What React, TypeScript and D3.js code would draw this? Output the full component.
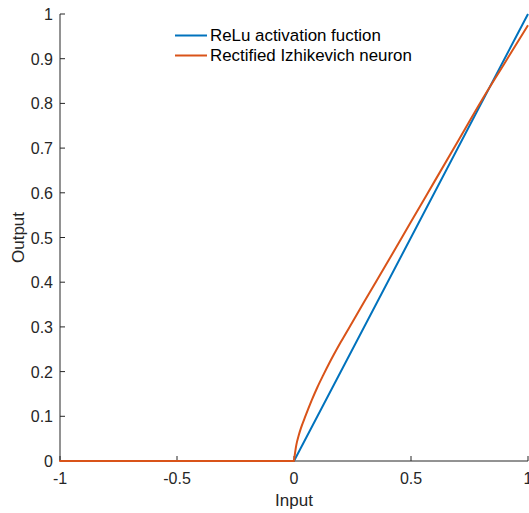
import React from "react";
import * as d3 from "d3";

const xTicks = [-1, -0.5, 0, 0.5, 1];
const xTickLabels = ["-1", "-0.5", "0", "0.5", "1"];
const yTicks = [0, 0.1, 0.2, 0.3, 0.4, 0.5, 0.6, 0.7, 0.8, 0.9, 1];
const yTickLabels = ["0", "0.1", "0.2", "0.3", "0.4", "0.5", "0.6", "0.7", "0.8", "0.9", "1"];

const reluX = [-1, 0, 1];
const reluY = [0, 0, 1];

const izhX = [-1, -0.5, 0, 0.005, 0.01, 0.02, 0.03, 0.05, 0.075, 0.1, 0.125, 0.15, 0.2, 0.25, 0.3, 0.4, 0.5, 0.6, 0.7, 0.8, 0.9, 1];
const izhY = [0, 0, 0, 0.02, 0.036, 0.057, 0.074, 0.102, 0.135, 0.165, 0.192, 0.218, 0.266, 0.311, 0.356, 0.445, 0.535, 0.625, 0.715, 0.805, 0.89, 0.975];

const seriesNames = ["ReLu activation fuction", "Rectified Izhikevich neuron"];
const colors = ["#0072BD", "#D95319"];

export default function App() {
  const W = 529, H = 513;
  const left = 60, right = 528, top = 14, bottom = 461;
  const x = d3.scaleLinear().domain([-1, 1]).range([left, right]);
  const y = d3.scaleLinear().domain([0, 1]).range([bottom, top]);
  const line = d3.line<[number, number]>().x(d => x(d[0])).y(d => y(d[1])).curve(d3.curveLinear);
  const smooth = d3.line<[number, number]>().x(d => x(d[0])).y(d => y(d[1])).curve(d3.curveMonotoneX);
  const relu = reluX.map((v, i) => [v, reluY[i]] as [number, number]);
  const izh = izhX.map((v, i) => [v, izhY[i]] as [number, number]);
  const izhFlat = izh.filter(d => d[0] <= 0);
  const izhPos = izh.filter(d => d[0] >= 0);
  const axisColor = "#262626";
  const font = "'Liberation Sans', Arial, Helvetica, sans-serif";
  return (
    <svg width={W} height={H} style={{ position: "absolute", left: 0, top: 0, background: "#fff" }} fontFamily={font}>
      <rect x={0} y={0} width={W} height={H} fill="#fff" />
      <line x1={left} y1={bottom} x2={right} y2={bottom} stroke={axisColor} strokeWidth={1} />
      <line x1={left} y1={bottom} x2={left} y2={top} stroke={axisColor} strokeWidth={1} />
      {xTicks.map((t, i) => (
        <g key={"x" + i}>
          <line x1={x(t)} x2={x(t)} y1={bottom} y2={bottom - 5} stroke={axisColor} />
          <text x={x(t)} y={484} textAnchor="middle" fontSize={16} fill={axisColor}>{xTickLabels[i]}</text>
        </g>
      ))}
      {yTicks.map((t, i) => (
        <g key={"y" + i}>
          <line x1={left} x2={left + 5} y1={y(t)} y2={y(t)} stroke={axisColor} />
          <text x={53} y={y(t) + 6} textAnchor="end" fontSize={16} fill={axisColor}>{yTickLabels[i]}</text>
        </g>
      ))}
      <text x={x(0)} y={506} textAnchor="middle" fontSize={17} fill={axisColor}>Input</text>
      <text transform={`translate(24, ${(top + bottom) / 2}) rotate(-90)`} textAnchor="middle" fontSize={17} fill={axisColor}>Output</text>
      <path d={line(relu) || ""} fill="none" stroke={colors[0]} strokeWidth={2} />
      <path d={line(izhFlat) || ""} fill="none" stroke={colors[1]} strokeWidth={2} strokeLinecap="round" />
      <path d={smooth(izhPos) || ""} fill="none" stroke={colors[1]} strokeWidth={2} strokeLinejoin="round" />
      {seriesNames.map((n, i) => (
        <g key={"l" + i}>
          <line x1={175} x2={207} y1={35.5 + i * 20} y2={35.5 + i * 20} stroke={colors[i]} strokeWidth={2} />
          <text x={210} y={35.5 + i * 20 + 5.5} fontSize={16.9} fill="#000">{n}</text>
        </g>
      ))}
    </svg>
  );
}
